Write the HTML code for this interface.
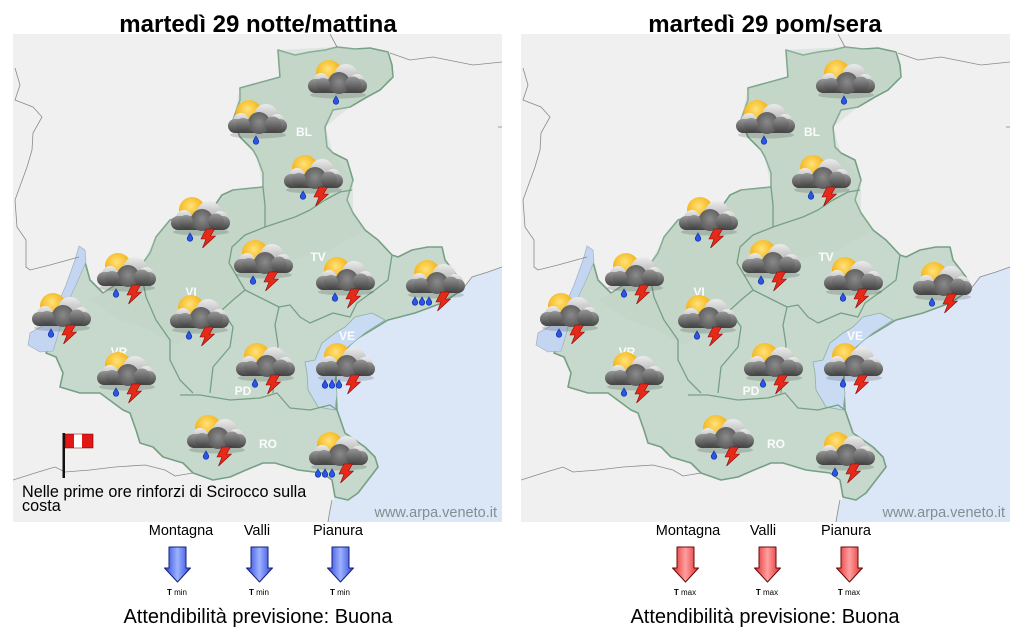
<!DOCTYPE html>
<html><head><meta charset="utf-8"><style>
html,body{margin:0;padding:0;background:#fff;}
svg{display:block;}
text{font-family:"Liberation Sans",Arial,sans-serif;}
</style></head><body>
<svg width="1020" height="629" viewBox="0 0 1020 629" xmlns="http://www.w3.org/2000/svg" xmlns:xlink="http://www.w3.org/1999/xlink">
<defs>
  <radialGradient id="sun" cx="0.45" cy="0.35" r="0.7">
    <stop offset="0" stop-color="#ffe27a"/><stop offset="0.55" stop-color="#f7bd2a"/><stop offset="1" stop-color="#e39a12"/>
  </radialGradient>
  <linearGradient id="lc" x1="0" y1="0" x2="0" y2="1">
    <stop offset="0" stop-color="#ececec"/><stop offset="1" stop-color="#9a9a9a"/>
  </linearGradient>
  <linearGradient id="dc" x1="0" y1="0" x2="0" y2="1">
    <stop offset="0" stop-color="#979797"/><stop offset="1" stop-color="#424242"/>
  </linearGradient>
  <radialGradient id="dc2" cx="0.5" cy="0.45" r="0.6">
    <stop offset="0" stop-color="#8a8a8a"/><stop offset="1" stop-color="#555"/>
  </radialGradient>
  <linearGradient id="ab" x1="0" y1="0" x2="1" y2="0">
    <stop offset="0" stop-color="#2a44d8"/><stop offset="0.5" stop-color="#9db2ff"/><stop offset="1" stop-color="#2a44d8"/>
  </linearGradient>
  <linearGradient id="ar" x1="0" y1="0" x2="1" y2="0">
    <stop offset="0" stop-color="#e02828"/><stop offset="0.5" stop-color="#ffa0a0"/><stop offset="1" stop-color="#e02828"/>
  </linearGradient>
  <clipPath id="mc"><rect x="13" y="34" width="489" height="488"/></clipPath>

  <g id="ic">
    <ellipse cx="30" cy="35" rx="28" ry="3.5" fill="#000" opacity="0.15"/>
    <circle cx="21" cy="13" r="13" fill="url(#sun)"/>
    <circle cx="38" cy="16" r="12" fill="url(#lc)"/>
    <circle cx="13" cy="21" r="8" fill="url(#lc)"/>
    <circle cx="49" cy="22" r="8" fill="url(#lc)"/>
    <rect x="0" y="19" width="59" height="14" rx="7" fill="url(#dc)"/>
    <circle cx="31" cy="23" r="11" fill="url(#dc2)"/>
    <circle cx="15" cy="25" r="7" fill="url(#dc)"/>
    <circle cx="45" cy="24.5" r="8" fill="url(#dc)"/>
  </g>
  <path id="d" d="M0,0 C-0.5,1.5 -2.8,3.8 -2.8,5.5 A2.8,2.8 0 0 0 2.8,5.5 C2.8,3.8 0.5,1.5 0,0Z" fill="#2b55e8" stroke="#0d2a9a" stroke-width="0.6"/>
  <polygon id="b" points="6,0 14.5,0 10.5,7 15.5,7 2.5,19 6,10 1,10" fill="#e52a1a" stroke="#8a0a0a" stroke-width="0.6"/>

  <g id="D1"><use xlink:href="#ic"/><use xlink:href="#d" x="28" y="36"/></g>
  <g id="DB"><use xlink:href="#ic"/><use xlink:href="#d" x="19" y="36"/><use xlink:href="#b" x="29" y="32"/></g>
  <g id="D3B"><use xlink:href="#ic"/><use xlink:href="#d" x="9" y="37"/><use xlink:href="#d" x="16" y="37"/><use xlink:href="#d" x="23" y="37"/><use xlink:href="#b" x="29" y="32"/></g>

  <g id="map" clip-path="url(#mc)">
    <rect x="13" y="34" width="489" height="488" fill="#f0f0f0"/>
    <path d="M502,266 L488,272 L472,277 L462,290 L442,303 L415,313 L388,320 L355,340 L342,353 L336,370 L336,390 L337,410 L345,433 L365,447 L375,457 L378,467 L368,480 L358,493 L348,500 L335,497 L330,508 L328,522 L502,522 Z" fill="#dbe7f7"/>
    <path d="M278,50 L295,55 L310,52 L325,50 L337,47 L355,49 L370,48 L388,52 L392,65 L393,77 L380,90 L367,97 L350,107 L333,110 L325,127 L327,147 L333,153 L347,160 L353,180 L347,200 L353,213 L365,230 L378,240 L392,255 L398,257 L412,250 L428,247 L442,247 L445,260 L458,277 L462,290 L442,303 L415,313 L388,320 L355,340 L342,353 L336,370 L336,390 L337,410 L345,433 L365,447 L375,457 L378,467 L368,480 L358,493 L348,500 L335,497 L332,480 L322,473 L298,470 L275,463 L263,463 L246,470 L230,477 L213,480 L193,473 L183,463 L163,457 L153,447 L140,443 L136,430 L130,413 L123,410 L100,393 L80,393 L60,387 L63,373 L56,357 L46,353 L56,337 L63,310 L75,285 L85,262 L90,280 L103,293 L123,280 L140,267 L150,253 L156,237 L170,220 L200,210 L215,205 L222,195 L233,190 L263,187 L263,173 L257,157 L253,150 L240,137 L233,120 L240,100 L240,88 L280,77 Z" fill="#c7d9cc" stroke="#76a086" stroke-width="1.6" stroke-linejoin="round"/>
    <path d="M278,50 L337,47 L388,52 L393,77 L350,107 L325,127 L333,153 L353,180 L353,213 L365,230 L330,250 L290,260 L260,285 L230,300 L200,330 L175,345 L150,330 L120,320 L90,300 L103,293 L140,267 L156,237 L170,220 L215,205 L233,190 L263,187 L257,157 L233,120 L240,88 L280,77 Z" fill="#b9cfbf" opacity="0.3"/>
    <path d="M385,320 L372,313 L355,317 L345,327 L335,333 L322,343 L315,360 L305,362 L307,373 L308,390 L318,407 L335,410 L337,393 L335,380 L338,360 L348,347 L365,333 Z" fill="#c9dbf3" stroke="#8fb0a0" stroke-width="0.8"/>
    <path d="M79,246 L85,250 L86,262 L76,285 L64,310 L58,335 L53,351 L40,352 L28,345 L30,333 L44,325 L55,310 L66,285 L75,260 Z" fill="#c3d5f0" stroke="#9ab" stroke-width="0.6"/>
    <g fill="none" stroke="#76a086" stroke-width="1.3" stroke-linejoin="round">
      <path d="M263,187 L265,205 L265,227 L280,222 L295,217 L310,210 L325,200 L340,192 L352,190"/>
      <path d="M265,227 L245,235 L232,247 L229,263 L245,290 L259,297 L279,307"/>
      <path d="M392,255 L388,280 L375,290 L357,303 L350,317 L333,313 L310,323 L300,317 L290,305 L279,307"/>
      <path d="M279,307 L275,325 L278,345 L275,370 L273,393"/>
      <path d="M245,290 L233,300 L222,310 L233,327 L230,347 L213,367 L210,393"/>
      <path d="M140,267 L146,297 L156,320 L170,340 L170,360 L180,380 L193,393"/>
      <path d="M180,395 L200,395 L230,400 L260,398 L277,393 L290,408 L310,410 L330,405 L337,410"/>
    </g>
    <g fill="none" stroke="#8a8a8a" stroke-width="0.8">
      <path d="M15,68 L20,85 L15,100 L33,107 L42,117 L33,133 L32,150 L27,167 L15,200 L17,227 L26,240 L26,267 L30,270 L50,265 L79,257"/>
      <path d="M330,34 L337,47"/>
      <path d="M390,53 L410,60 L433,57 L473,65 L502,62"/>
      <path d="M498,127 L502,127"/>
      <path d="M13,480 L35,473 L55,467 L65,472 L90,470 L115,467 L145,465 L165,470 L175,476 L193,473"/>
      <path d="M332,500 L330,510 L328,522"/>
      <path d="M462,290 L472,277 L488,272 L502,267"/>
    </g>
    <g fill="#fff" font-weight="bold" font-size="12" text-anchor="middle" opacity="0.92">
      <text x="304" y="136">BL</text>
      <text x="318" y="261">TV</text>
      <text x="347" y="340">VE</text>
      <text x="243" y="395">PD</text>
      <text x="268" y="448">RO</text>
      <text x="191" y="296">VI</text>
      <text x="119" y="356">VR</text>
    </g>
    <text x="497" y="517" font-size="14.5" fill="#7f9090" text-anchor="end">www.arpa.veneto.it</text>
  </g>
</defs>

<text x="258" y="32" font-size="24" font-weight="bold" text-anchor="middle" fill="#000">martedì 29 notte/mattina</text>
<text x="765" y="32" font-size="24" font-weight="bold" text-anchor="middle" fill="#000">martedì 29 pom/sera</text>

<use xlink:href="#map"/>
<use xlink:href="#map" transform="translate(508,0)"/>

<use xlink:href="#D1" x="308" y="60"/>
<use xlink:href="#D1" x="228" y="100"/>
<use xlink:href="#DB" x="284" y="155"/>
<use xlink:href="#DB" x="171" y="197"/>
<use xlink:href="#DB" x="234" y="240"/>
<use xlink:href="#DB" x="316" y="257"/>
<use xlink:href="#D3B" x="406" y="260"/>
<use xlink:href="#D3B" x="316" y="343"/>
<use xlink:href="#D3B" x="309" y="432"/>
<use xlink:href="#DB" x="170" y="295"/>
<use xlink:href="#DB" x="97" y="253"/>
<use xlink:href="#DB" x="32" y="293"/>
<use xlink:href="#DB" x="97" y="352"/>
<use xlink:href="#DB" x="236" y="343"/>
<use xlink:href="#DB" x="187" y="415"/>

<g transform="translate(508,0)">
<use xlink:href="#D1" x="308" y="60"/>
<use xlink:href="#D1" x="228" y="100"/>
<use xlink:href="#DB" x="284" y="155"/>
<use xlink:href="#DB" x="171" y="197"/>
<use xlink:href="#DB" x="234" y="240"/>
<use xlink:href="#DB" x="316" y="257"/>
<use xlink:href="#DB" x="405" y="262"/>
<use xlink:href="#DB" x="316" y="343"/>
<use xlink:href="#DB" x="308" y="432"/>
<use xlink:href="#DB" x="170" y="295"/>
<use xlink:href="#DB" x="97" y="253"/>
<use xlink:href="#DB" x="32" y="293"/>
<use xlink:href="#DB" x="97" y="352"/>
<use xlink:href="#DB" x="236" y="343"/>
<use xlink:href="#DB" x="187" y="415"/>
</g>

<rect x="62.5" y="433" width="2.5" height="45" fill="#111"/>
<path d="M65,434 L93,434 L93,448 L65,448 Z" fill="#e01818" stroke="#600" stroke-width="0.6"/>
<rect x="74" y="434.3" width="8" height="13.4" fill="#fff"/>
<text font-size="16.2" fill="#000"><tspan x="22" y="497">Nelle prime ore rinforzi di Scirocco sulla</tspan><tspan x="22" y="511">costa</tspan></text>

<g font-size="14.5" fill="#000" text-anchor="middle">
  <text x="181" y="535">Montagna</text><text x="257" y="535">Valli</text><text x="338" y="535">Pianura</text>
  <text x="688" y="535">Montagna</text><text x="763" y="535">Valli</text><text x="846" y="535">Pianura</text>
</g>
<g stroke-width="1" stroke-linejoin="round">
  <g stroke="#15207a" fill="url(#ab)">
    <path d="M169,547 h17 v21 h4.5 l-13,14 l-13,-14 h4.5 z"/>
    <path d="M251,547 h17 v21 h4.5 l-13,14 l-13,-14 h4.5 z"/>
    <path d="M332,547 h17 v21 h4.5 l-13,14 l-13,-14 h4.5 z"/>
  </g>
  <g stroke="#6a0808" fill="url(#ar)">
    <path d="M677,547 h17 v21 h4.5 l-13,14 l-13,-14 h4.5 z"/>
    <path d="M759,547 h17 v21 h4.5 l-13,14 l-13,-14 h4.5 z"/>
    <path d="M841,547 h17 v21 h4.5 l-13,14 l-13,-14 h4.5 z"/>
  </g>
</g>
<g font-size="8" fill="#000" text-anchor="middle">
  <text x="177" y="595"><tspan font-weight="bold">T</tspan> min</text>
  <text x="259" y="595"><tspan font-weight="bold">T</tspan> min</text>
  <text x="340" y="595"><tspan font-weight="bold">T</tspan> min</text>
  <text x="685" y="595"><tspan font-weight="bold">T</tspan> max</text>
  <text x="767" y="595"><tspan font-weight="bold">T</tspan> max</text>
  <text x="849" y="595"><tspan font-weight="bold">T</tspan> max</text>
</g>
<text x="258" y="623" font-size="20" text-anchor="middle" fill="#000">Attendibilità previsione: Buona</text>
<text x="765" y="623" font-size="20" text-anchor="middle" fill="#000">Attendibilità previsione: Buona</text>
</svg>
</body></html>
